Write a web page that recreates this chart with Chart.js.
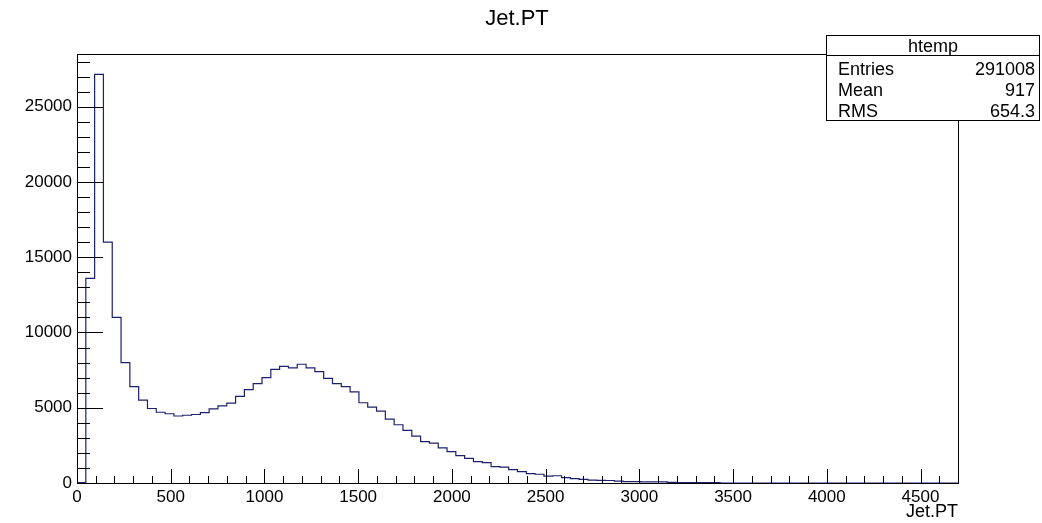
<!DOCTYPE html>
<html>
<head>
<meta charset="utf-8">
<title>Jet.PT</title>
<script src="https://cdn.jsdelivr.net/npm/chart.js@4.4.1/dist/chart.umd.min.js"></script>
<style>
  html, body { margin: 0; padding: 0; background: #fff; }
  canvas { display: block; }
</style>
</head>
<body>
<canvas id="canvas" width="1042" height="523"></canvas>
<script>
// histogram: 100 bins of width 47 from 0 to 4700
const binWidth = 47;
const counts = [
  30, 13600, 27150, 16000, 11000, 8000, 6400, 5500, 4950, 4700,
  4600, 4450, 4500, 4550, 4680, 4920, 5120, 5300, 5750, 6200,
  6600, 7000, 7550, 7750, 7650, 7890, 7650, 7400, 6950, 6600,
  6400, 6050, 5330, 5040, 4780, 4250, 3870, 3500, 3120, 2750,
  2650, 2330, 2090, 1820, 1640, 1420, 1350, 1090, 1060, 890,
  750, 620, 580, 460, 480, 360, 290, 240, 190, 180,
  165, 130, 90, 85, 80, 75, 70, 35, 30, 28,
  25, 22, 20, 0, 0, 0, 0, 0, 0, 0,
  0, 0, 0, 0, 0, 0, 0, 0, 0, 0,
  0, 0, 0, 0, 0, 0, 0, 0, 0, 0
];

const xMax = 4700;
const yMax = 28500;
const xTicks = [0, 500, 1000, 1500, 2000, 2500, 3000, 3500, 4000, 4500];
const yTicks = [0, 5000, 10000, 15000, 20000, 25000];

const statsTitle = 'htemp';
const statsLabels = ['Entries', 'Mean', 'RMS'];
const statsValues = ['291008', '917', '654.3'];

const FONT = '"Liberation Sans", Arial, Helvetica, sans-serif';

// step points: with stepped 'after' a point's value spans back to the previous point,
// so each bin count sits on its upper edge
const points = [{ x: 0, y: 0 }];
counts.forEach((c, i) => points.push({ x: (i + 1) * binWidth, y: c }));

// ROOT style frame with ticks inside, title and stats box
const rootStyle = {
  id: 'rootStyle',
  afterDatasetsDraw(chart) {
    const { ctx, chartArea: a, scales: { x, y } } = chart;
    ctx.save();
    ctx.strokeStyle = '#000';
    ctx.lineWidth = 1;
    ctx.beginPath();
    for (let v = 0; v <= xMax; v += 100) {
      const px = Math.round(x.getPixelForValue(v)) + 0.5;
      const len = v % 500 === 0 ? 14 : 7;
      ctx.moveTo(px, a.bottom);
      ctx.lineTo(px, a.bottom - len);
    }
    for (let v = 0; v <= yMax; v += 1000) {
      const py = Math.round(y.getPixelForValue(v)) + 0.5;
      const len = v % 5000 === 0 ? 26 : 13;
      ctx.moveTo(a.left, py);
      ctx.lineTo(a.left + len, py);
    }
    ctx.stroke();
    ctx.strokeRect(Math.round(a.left) + 0.5, Math.round(a.top) + 0.5,
      Math.round(a.right - a.left), Math.round(a.bottom - a.top));
    ctx.restore();
  },
  afterDraw(chart) {
    const ctx = chart.ctx;
    ctx.save();
    // title
    ctx.fillStyle = '#000';
    ctx.font = '22px ' + FONT;
    ctx.textAlign = 'center';
    ctx.textBaseline = 'alphabetic';
    ctx.fillText('Jet.PT', 517, 25);

    // stats box
    const bx = 826.5, by = 35.5, bw = 213, bh = 85;
    ctx.fillStyle = '#fff';
    ctx.fillRect(bx, by, bw, bh);
    ctx.strokeStyle = '#000';
    ctx.lineWidth = 1;
    ctx.strokeRect(bx, by, bw, bh);
    ctx.beginPath();
    ctx.moveTo(bx, 55.5);
    ctx.lineTo(bx + bw, 55.5);
    ctx.stroke();

    ctx.fillStyle = '#000';
    ctx.font = '18px ' + FONT;
    ctx.textAlign = 'center';
    ctx.fillText(statsTitle, bx + bw / 2, 52);
    const rows = [74.5, 95.5, 116.5];
    statsLabels.forEach((lab, i) => {
      ctx.textAlign = 'left';
      ctx.fillText(lab, 838, rows[i]);
      ctx.textAlign = 'right';
      ctx.fillText(statsValues[i], 1035, rows[i]);
    });
    ctx.restore();
  }
};

const tickFont = { family: FONT, size: 17 };

new Chart(document.getElementById('canvas'), {
  type: 'line',
  data: {
    datasets: [{
      data: points,
      stepped: 'after',
      borderColor: '#1c216c',
      borderWidth: 1.2,
      pointRadius: 0,
      fill: false
    }]
  },
  options: {
    responsive: false,
    animation: false,
    layout: { padding: { top: 54, right: 84, left: 0, bottom: 0 } },
    plugins: {
      legend: { display: false },
      title: { display: false },
      tooltip: { enabled: false }
    },
    scales: {
      x: {
        type: 'linear',
        min: 0,
        max: xMax,
        afterBuildTicks: s => { s.ticks = xTicks.map(v => ({ value: v })); },
        afterFit: s => { s.height = 40; },
        grid: { display: false, drawTicks: false },
        border: { display: false },
        ticks: {
          padding: 4,
          color: '#000',
          font: tickFont,
          maxRotation: 0,
          autoSkip: false,
          callback: v => String(v)
        },
        title: {
          display: true,
          text: 'Jet.PT',
          align: 'end',
          color: '#000',
          font: { family: FONT, size: 18 },
          padding: { top: 0, bottom: 0 }
        }
      },
      y: {
        type: 'linear',
        min: 0,
        max: yMax,
        afterBuildTicks: s => { s.ticks = yTicks.map(v => ({ value: v })); },
        afterFit: s => { s.width = 77; },
        grid: { display: false, drawTicks: false },
        border: { display: false },
        ticks: {
          padding: 5,
          color: '#000',
          font: tickFont,
          autoSkip: false,
          callback: v => String(v)
        }
      }
    }
  },
  plugins: [rootStyle]
});
</script>
</body>
</html>
